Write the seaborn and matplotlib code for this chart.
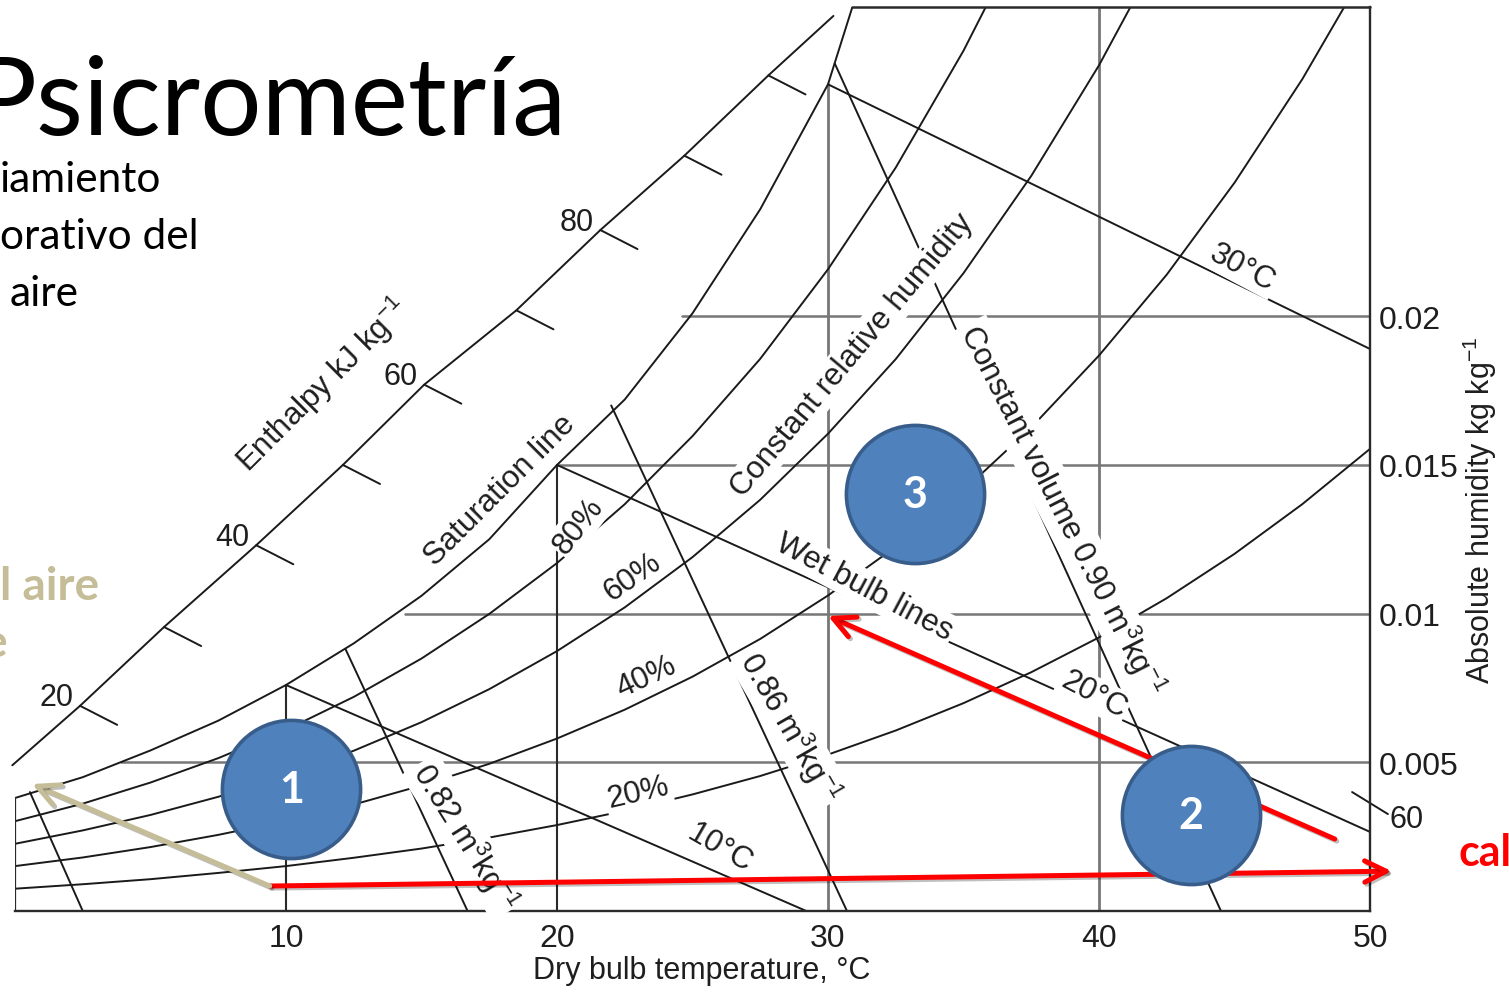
import matplotlib
matplotlib.use("Agg")
import matplotlib.pyplot as plt
import matplotlib.patheffects as pe
import pandas as pd
import seaborn as sns

sns.set_style("white")
plt.rcParams["font.family"] = ["Liberation Sans", "DejaVu Sans"]
plt.rcParams["mathtext.default"] = "regular"

W_PX, H_PX = 1509, 995

# ---------------------------------------------------------------- data
# dry-bulb temperature grid (°C) for the constant relative humidity curves
t_grid = [0, 2.5, 5, 7.5, 10, 12.5, 15, 17.5, 20, 22.5, 25, 27.5, 30,
          32.5, 35, 37.5, 40, 42.5, 45, 47.5, 50]
# absolute humidity (kg/kg) along each relative humidity curve
rh80 = [0.00302, 0.00361, 0.00432, 0.00514, 0.00609, 0.00720, 0.00849,
        0.00999, 0.01170, 0.01368, 0.01597, 0.01857, 0.02158, 0.02500,
        0.02893, 0.03340]
rh60 = [0.00226, 0.00271, 0.00323, 0.00384, 0.00456, 0.00539, 0.00635,
        0.00746, 0.00874, 0.01021, 0.01190, 0.01383, 0.01605, 0.01856,
        0.02145, 0.02472, 0.02844, 0.03266]
rh40 = [0.00151, 0.00180, 0.00215, 0.00256, 0.00303, 0.00358, 0.00422,
        0.00495, 0.00580, 0.00677, 0.00788, 0.00915, 0.01061, 0.01225,
        0.01414, 0.01626, 0.01868, 0.02140, 0.02449, 0.02797, 0.03189]
rh20 = [0.00075, 0.00090, 0.00107, 0.00128, 0.00151, 0.00179, 0.00210,
        0.00247, 0.00289, 0.00337, 0.00392, 0.00454, 0.00526, 0.00607,
        0.00699, 0.00803, 0.00920, 0.01052, 0.01201, 0.01368, 0.01554]

# saturation line
sat_t = [0, 2.5, 5, 7.5, 10, 12.5, 15, 17.5, 20, 22.5, 25, 27.5, 30, 30.9]
sat_w = [0.0038, 0.0045, 0.0054, 0.0064, 0.0076, 0.0090, 0.0106, 0.0125,
         0.0150, 0.0172, 0.0201, 0.0236, 0.0278, 0.0304]

# enthalpy scale line and its graduations (kJ/kg)
ent_t = [-0.1, 2.4, 5.5, 8.9, 12.1, 15.1, 18.5, 21.6, 24.7, 27.8, 30.2]
ent_w = [0.0049, 0.0069, 0.00955, 0.0123, 0.0150, 0.0177, 0.0202, 0.0229,
         0.0254, 0.0281, 0.0301]
ent_values = [None, 20, 30, 40, 50, 60, 70, 80, 90, 100, None]
ent_labelled = [20, 40, 60, 80]
ent60_right_t = [49.34, 50.66]
ent60_right_w = [0.0040, 0.00326]

# wet-bulb lines: (label, start T, start w, end T, end w)
wet_bulb = [("10", 10, 0.0076, 29.2, 0.0),
            ("20", 20, 0.0150, 50, 0.00266),
            ("30", 30, 0.0278, 50, 0.0189)]

# constant specific volume lines (m3/kg)
volume = [(0.78, 0.55, 0.0040, 2.5, 0.0),
          (0.82, 12.2, 0.0088, 16.7, 0.0),
          (0.86, 22.0, 0.0170, 30.7, 0.0),
          (0.90, 30.25, 0.0285, 44.5, 0.0)]

# humidity reference lines start on the saturation line
hum_levels = [0.005, 0.01, 0.015, 0.02]
hum_start_t = [3.9, 14.4, 20.0, 24.6]
# dry-bulb reference lines end on the saturation line
temp_levels = [10, 20, 30, 40]
temp_top_w = [0.0076, 0.0150, 0.0278, 0.0304]

x_ticks = [10, 20, 30, 40, 50]
y_ticks = [0.005, 0.01, 0.015, 0.02]
y_tick_labels = ["0.005", "0.01", "0.015", "0.02"]

# process states and transitions
state_labels = ["1", "2", "3"]
state_t = [10.2, 43.4, 33.2]
state_w = [0.0041, 0.00323, 0.01402]
heat_from = (9.4, 0.00084)
heat_to = (50.8, 0.00134)
cool_from = (48.7, 0.00242)
cool_to = (30.0, 0.00992)
back_from = (9.4, 0.00084)
back_to = (0.63, 0.00427)

# ---------------------------------------------------------------- figure
fig = plt.figure(figsize=(W_PX / 100, H_PX / 100), dpi=100)
fig.patch.set_facecolor("white")
ax = fig.add_axes([15 / W_PX, 1 - 912 / H_PX, 1355 / W_PX, 904 / H_PX])
ax.set_xlim(0, 50)
ax.set_ylim(0, 0.0304)
ax.set_facecolor("none")

LINE = "#1a1a1a"
GRID = "#777777"
TXT = "#1e1e1e"
LW = 1.4

# relative humidity curves
rh_frames = []
for name, vals in [("80", rh80), ("60", rh60), ("40", rh40), ("20", rh20)]:
    rh_frames.append(pd.DataFrame({"T": t_grid[:len(vals)], "w": vals, "curve": name}))
rh_df = pd.concat(rh_frames, ignore_index=True)
sns.lineplot(data=rh_df, x="T", y="w", units="curve", estimator=None, sort=False,
             color=LINE, linewidth=LW, ax=ax, zorder=2)

sat_df = pd.DataFrame({"T": sat_t, "w": sat_w})
sns.lineplot(data=sat_df, x="T", y="w", sort=False, color=LINE, linewidth=LW,
             ax=ax, zorder=2)

# enthalpy scale
ent_df = pd.DataFrame({"T": ent_t, "w": ent_w})
sns.lineplot(data=ent_df, x="T", y="w", sort=False, color=LINE, linewidth=LW,
             ax=ax, zorder=2, clip_on=False)
tick_dt, tick_dw = 1.37, -0.00064
for t, w, h in zip(ent_t, ent_w, ent_values):
    if h is None:
        continue
    ax.plot([t, t + tick_dt], [w, w + tick_dw], color=LINE, lw=LW, zorder=2)
    if h in ent_labelled:
        ax.annotate(str(h), xy=(t, w), xytext=(-5, 6), textcoords="offset points",
                    ha="right", va="center", fontsize=22, color=TXT)
ax.plot(ent60_right_t, ent60_right_w, color=LINE, lw=LW, zorder=2, clip_on=False)
ax.text(51.35, 0.00309, "60", ha="center", va="center", fontsize=22,
        color=TXT, clip_on=False)

# straight construction lines
seg_rows = []
for name, t0, w0, t1, w1 in wet_bulb:
    seg_rows += [("wb" + name, t0, w0), ("wb" + name, t1, w1)]
for v, t0, w0, t1, w1 in volume:
    seg_rows += [("v%.2f" % v, t0, w0), ("v%.2f" % v, t1, w1)]
seg_df = pd.DataFrame(seg_rows, columns=["line", "T", "w"])
sns.lineplot(data=seg_df, x="T", y="w", units="line", estimator=None, sort=False,
             color=LINE, linewidth=LW, ax=ax, zorder=2)

for lvl, t0 in zip(hum_levels, hum_start_t):
    ax.plot([t0, 50], [lvl, lvl], color=GRID, lw=1.8, zorder=1.5)
for t, top in zip(temp_levels, temp_top_w):
    col = "#2a2a2a" if t < 30 else GRID
    ax.plot([t, t], [0, top], color=col, lw=1.5 if t < 30 else 2.0, zorder=1.5)

# partial frame: left edge below saturation, top edge right of saturation
ax.plot([0, 0], [0, sat_w[0]], color="#2a2a2a", lw=1.6, zorder=2)
ax.plot([sat_t[-1], 50], [0.0304, 0.0304], color="#2a2a2a", lw=1.8, zorder=2,
        clip_on=False)
for side in ["left", "top"]:
    ax.spines[side].set_visible(False)
for side in ["right", "bottom"]:
    ax.spines[side].set_color("#2a2a2a")
    ax.spines[side].set_linewidth(1.7)

ax.set_xticks(x_ticks)
ax.set_xticklabels([str(v) for v in x_ticks])
ax.yaxis.tick_right()
ax.set_yticks(y_ticks)
ax.set_yticklabels(y_tick_labels)
ax.tick_params(axis="x", length=0, pad=9, labelsize=23, labelcolor=TXT)
ax.tick_params(axis="y", length=0, pad=6, labelsize=23, labelcolor=TXT)
ax.set_xlabel("Dry bulb temperature, °C", fontsize=22, color=TXT)
ax.xaxis.set_label_coords(0.507, -0.049)
ax.yaxis.set_label_position("right")
ax.set_ylabel("Absolute humidity kg kg$^{-1}$", fontsize=22, color=TXT, rotation=90)
ax.yaxis.set_label_coords(1.081, 0.445)
ax.yaxis.label.set_va("center")
ax.yaxis.label.set_ha("center")

# in-chart annotations
box = dict(boxstyle="square,pad=0.08", fc="white", ec="none")
chart_labels = [
    ("Enthalpy kJ kg$^{-1}$", 11.35, 0.01770, 45, False),
    ("Saturation line", 17.9, 0.01418, 45, False),
    ("Constant relative humidity", 30.9, 0.01872, 50, True),
    ("Constant volume 0.90 m$^3$kg$^{-1}$", 38.6, 0.01350, -63, True),
    ("0.86 m$^3$kg$^{-1}$", 28.6, 0.00618, -60, True),
    ("0.82 m$^3$kg$^{-1}$", 16.6, 0.00249, -58, True),
    ("Wet bulb lines", 31.33, 0.01089, -28, True),
    ("10°C", 26.0, 0.00215, -30, True),
    ("20°C", 39.8, 0.00729, -28, True),
    ("30°C", 45.3, 0.02165, -28, True),
    ("80%", 20.8, 0.01297, 52, True),
    ("60%", 22.8, 0.01126, 35, True),
    ("40%", 23.3, 0.00787, 25, True),
    ("20%", 23.0, 0.0040, 13, True),
]
for txt, t, w, rot, boxed in chart_labels:
    ax.text(t, w, txt, rotation=rot, ha="center", va="center", fontsize=22.5,
            color=TXT, zorder=3, bbox=box if boxed else None)

# process arrows
shadow = [pe.SimpleLineShadow(offset=(1.5, -1.5), alpha=0.25), pe.Normal()]
for (p0, p1, col) in [(heat_from, heat_to, "#ff0000"),
                      (cool_from, cool_to, "#ff0000"),
                      (back_from, back_to, "#c4bd97")]:
    ax.annotate("", xy=p1, xytext=p0, zorder=4, annotation_clip=False,
                arrowprops=dict(arrowstyle="->,head_length=1.1,head_width=0.55",
                                color=col, lw=3.6, mutation_scale=14,
                                shrinkA=0, shrinkB=0, path_effects=shadow))

# state markers
sns.scatterplot(x=state_t, y=state_w, s=9900, color="#4f81bd", edgecolor="#385d8a",
                linewidth=2.6, ax=ax, zorder=5, legend=False, clip_on=False)
for lab, t, w in zip(state_labels, state_t, state_w):
    ax.text(t, w, lab, ha="center", va="center", fontsize=31, fontweight="bold",
            color="white", family="Lato", zorder=6)


# ---------------------------------------------------------------- slide text
def fxy(px, py):
    return px / W_PX, 1 - py / H_PX


fig.text(*fxy(566, 135), "Psicrometría", ha="right", va="baseline", fontsize=78,
         family="Lato", color="black")
for txt, py in [("iamiento", 192), ("orativo del", 249), ("aire", 306)]:
    x0 = 10 if txt == "aire" else 0
    fig.text(*fxy(x0, py), txt, ha="left", va="baseline", fontsize=30.5,
             family="Lato", color="black")
fig.text(*fxy(0, 600), "l aire", ha="left", va="baseline", fontsize=33,
         family="Lato", fontweight="bold", color="#c4bd97")
fig.text(*fxy(7, 657), "e", ha="right", va="baseline", fontsize=33,
         family="Lato", fontweight="bold", color="#c4bd97")
fig.text(*fxy(1458, 866), "cal", ha="left", va="baseline", fontsize=31,
         family="Lato", fontweight="bold", color="#ff0000")

fig.savefig("out.png", dpi=100, facecolor="white")
